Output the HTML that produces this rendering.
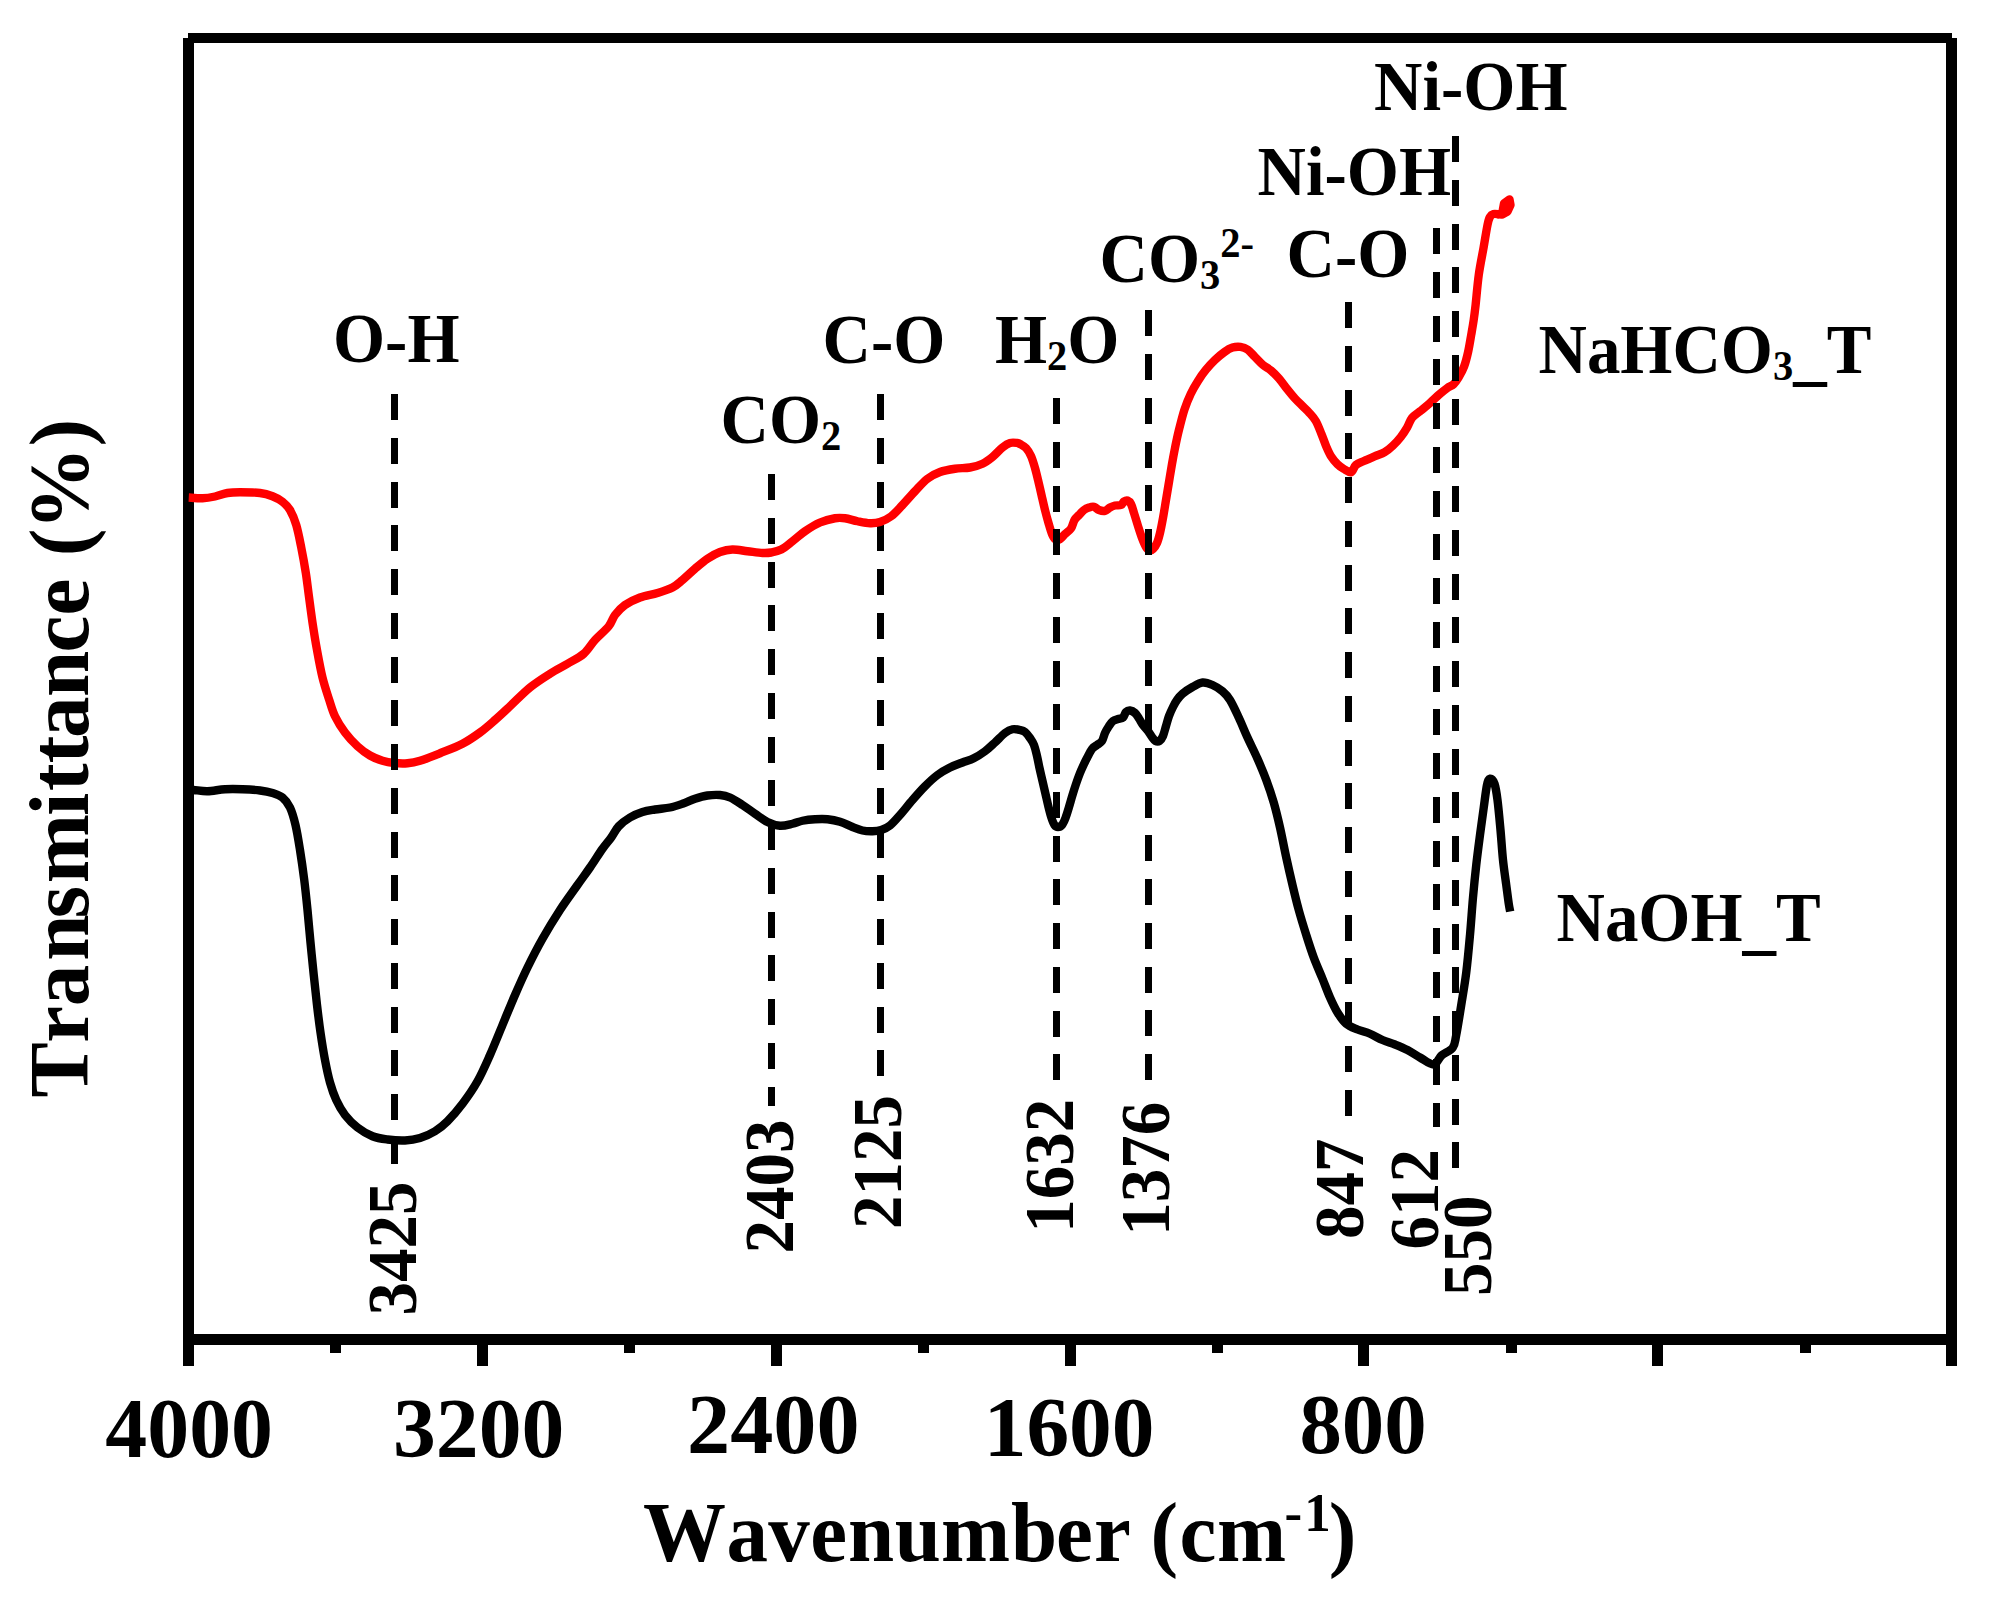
<!DOCTYPE html>
<html lang="en">
<head>
<meta charset="utf-8">
<title>FTIR spectra</title>
<style>
html,body{margin:0;padding:0;background:#fff;}
body{width:1997px;height:1600px;overflow:hidden;}
svg{display:block;}
</style>
</head>
<body>
<svg width="1997" height="1600" viewBox="0 0 1997 1600">
<rect width="1997" height="1600" fill="#fff"/>
<g fill="#000" shape-rendering="crispEdges">
<rect x="183" y="38" width="11" height="1328"/>
<rect x="188" y="33" width="1764" height="10"/>
<rect x="1946" y="38" width="11" height="1328"/>
<rect x="183" y="1334" width="1774" height="11"/>
<rect x="477" y="1340" width="11" height="26"/>
<rect x="771" y="1340" width="11" height="26"/>
<rect x="1065" y="1340" width="11" height="26"/>
<rect x="1358" y="1340" width="11" height="26"/>
<rect x="1652" y="1340" width="11" height="26"/>
<rect x="330" y="1340" width="11" height="13"/>
<rect x="624" y="1340" width="11" height="13"/>
<rect x="918" y="1340" width="11" height="13"/>
<rect x="1212" y="1340" width="11" height="13"/>
<rect x="1506" y="1340" width="11" height="13"/>
<rect x="1800" y="1340" width="11" height="13"/>
</g>
<g stroke="#000" stroke-width="7" stroke-dasharray="26 17.75" shape-rendering="crispEdges" fill="none">
<path d="M880.5 394.0V1076.0"/>
<path d="M1348.5 302.0V1116.0"/>
</g>
<g fill="none" stroke-linejoin="round" stroke-linecap="butt" stroke-width="8.4">
<path stroke="#000" d="M189.00 790.00C189.79 790.00 190.67 789.79 193.75 790.00C196.83 790.21 202.29 791.38 207.50 791.25C212.71 791.12 219.17 789.58 225.00 789.25C230.83 788.92 236.67 789.04 242.50 789.25C248.33 789.46 255.00 789.88 260.00 790.50C265.00 791.12 268.75 791.83 272.50 793.00C276.25 794.17 279.58 795.08 282.50 797.50C285.42 799.92 287.83 802.92 290.00 807.50C292.17 812.08 293.83 817.92 295.50 825.00C297.17 832.08 298.54 840.83 300.00 850.00C301.46 859.17 303.00 870.00 304.25 880.00C305.50 890.00 306.46 899.58 307.50 910.00C308.54 920.42 309.46 931.67 310.50 942.50C311.54 953.33 312.67 964.58 313.75 975.00C314.83 985.42 315.88 995.42 317.00 1005.00C318.12 1014.58 319.17 1023.33 320.50 1032.50C321.83 1041.67 323.42 1051.67 325.00 1060.00C326.58 1068.33 328.12 1075.83 330.00 1082.50C331.88 1089.17 333.75 1094.58 336.25 1100.00C338.75 1105.42 341.46 1110.42 345.00 1115.00C348.54 1119.58 352.92 1123.96 357.50 1127.50C362.08 1131.04 367.50 1134.25 372.50 1136.25C377.50 1138.25 382.08 1138.79 387.50 1139.50C392.92 1140.21 399.58 1140.75 405.00 1140.50C410.42 1140.25 415.00 1139.54 420.00 1138.00C425.00 1136.46 430.42 1134.04 435.00 1131.25C439.58 1128.46 442.92 1125.83 447.50 1121.25C452.08 1116.67 457.50 1110.42 462.50 1103.75C467.50 1097.08 472.92 1089.38 477.50 1081.25C482.08 1073.12 485.83 1064.38 490.00 1055.00C494.17 1045.62 498.33 1035.00 502.50 1025.00C506.67 1015.00 510.83 1004.58 515.00 995.00C519.17 985.42 522.92 976.88 527.50 967.50C532.08 958.12 537.08 948.33 542.50 938.75C547.92 929.17 554.17 918.96 560.00 910.00C565.83 901.04 572.50 892.08 577.50 885.00C582.50 877.92 585.83 873.54 590.00 867.50C594.17 861.46 598.96 853.75 602.50 848.75C606.04 843.75 608.54 841.25 611.25 837.50C613.96 833.75 615.62 829.58 618.75 826.25C621.88 822.92 626.04 819.88 630.00 817.50C633.96 815.12 638.33 813.33 642.50 812.00C646.67 810.67 650.42 810.25 655.00 809.50C659.58 808.75 665.42 808.46 670.00 807.50C674.58 806.54 678.33 805.21 682.50 803.75C686.67 802.29 690.83 800.12 695.00 798.75C699.17 797.38 703.33 796.12 707.50 795.50C711.67 794.88 716.25 794.67 720.00 795.00C723.75 795.33 726.25 795.83 730.00 797.50C733.75 799.17 738.33 802.29 742.50 805.00C746.67 807.71 750.83 810.92 755.00 813.75C759.17 816.58 763.33 820.00 767.50 822.00C771.67 824.00 775.83 825.46 780.00 825.75C784.17 826.04 788.75 824.58 792.50 823.75C796.25 822.92 798.75 821.50 802.50 820.75C806.25 820.00 810.83 819.50 815.00 819.25C819.17 819.00 823.33 818.83 827.50 819.25C831.67 819.67 835.83 820.46 840.00 821.75C844.17 823.04 848.75 825.54 852.50 827.00C856.25 828.46 859.17 829.79 862.50 830.50C865.83 831.21 869.38 831.33 872.50 831.25C875.62 831.17 878.33 830.96 881.25 830.00C884.17 829.04 886.88 828.00 890.00 825.50C893.12 823.00 896.25 819.25 900.00 815.00C903.75 810.75 908.33 804.79 912.50 800.00C916.67 795.21 920.83 790.42 925.00 786.25C929.17 782.08 933.33 778.12 937.50 775.00C941.67 771.88 945.83 769.58 950.00 767.50C954.17 765.42 958.54 764.04 962.50 762.50C966.46 760.96 970.00 760.12 973.75 758.25C977.50 756.38 981.46 753.88 985.00 751.25C988.54 748.62 991.67 745.54 995.00 742.50C998.33 739.46 1002.08 735.21 1005.00 733.00C1007.92 730.79 1010.00 729.75 1012.50 729.25C1015.00 728.75 1017.92 729.54 1020.00 730.00C1022.08 730.46 1023.33 730.67 1025.00 732.00C1026.67 733.33 1028.50 735.83 1030.00 738.00C1031.50 740.17 1032.83 742.00 1034.00 745.00C1035.17 748.00 1036.08 752.17 1037.00 756.00C1037.92 759.83 1038.58 763.83 1039.50 768.00C1040.42 772.17 1041.50 776.67 1042.50 781.00C1043.50 785.33 1044.50 789.67 1045.50 794.00C1046.50 798.33 1047.50 803.00 1048.50 807.00C1049.50 811.00 1050.50 815.00 1051.50 818.00C1052.50 821.00 1053.42 823.50 1054.50 825.00C1055.58 826.50 1056.75 827.00 1058.00 827.00C1059.25 827.00 1060.75 826.50 1062.00 825.00C1063.25 823.50 1064.33 821.00 1065.50 818.00C1066.67 815.00 1067.83 810.83 1069.00 807.00C1070.17 803.17 1071.33 798.83 1072.50 795.00C1073.67 791.17 1074.75 787.67 1076.00 784.00C1077.25 780.33 1078.67 776.33 1080.00 773.00C1081.33 769.67 1082.83 766.50 1084.00 764.00C1085.17 761.50 1085.67 760.50 1087.00 758.00C1088.33 755.50 1090.33 751.17 1092.00 749.00C1093.67 746.83 1095.33 746.33 1097.00 745.00C1098.67 743.67 1100.67 743.00 1102.00 741.00C1103.33 739.00 1103.83 735.50 1105.00 733.00C1106.17 730.50 1107.67 728.00 1109.00 726.00C1110.33 724.00 1111.50 722.17 1113.00 721.00C1114.50 719.83 1116.33 719.58 1118.00 719.00C1119.67 718.42 1121.67 718.67 1123.00 717.50C1124.33 716.33 1124.83 713.17 1126.00 712.00C1127.17 710.83 1128.50 710.33 1130.00 710.50C1131.50 710.67 1133.50 711.67 1135.00 713.00C1136.50 714.33 1137.67 716.50 1139.00 718.50C1140.33 720.50 1141.50 722.92 1143.00 725.00C1144.50 727.08 1146.50 729.00 1148.00 731.00C1149.50 733.00 1150.75 735.33 1152.00 737.00C1153.25 738.67 1154.25 740.33 1155.50 741.00C1156.75 741.67 1158.25 741.83 1159.50 741.00C1160.75 740.17 1161.92 738.50 1163.00 736.00C1164.08 733.50 1165.00 729.33 1166.00 726.00C1167.00 722.67 1167.83 719.17 1169.00 716.00C1170.17 712.83 1171.67 709.67 1173.00 707.00C1174.33 704.33 1175.42 702.21 1177.00 700.00C1178.58 697.79 1179.92 695.92 1182.50 693.75C1185.08 691.58 1189.17 688.88 1192.50 687.00C1195.83 685.12 1199.17 682.83 1202.50 682.50C1205.83 682.17 1209.17 683.54 1212.50 685.00C1215.83 686.46 1219.58 688.75 1222.50 691.25C1225.42 693.75 1227.29 695.62 1230.00 700.00C1232.71 704.38 1235.83 711.25 1238.75 717.50C1241.67 723.75 1244.38 730.62 1247.50 737.50C1250.62 744.38 1254.38 751.67 1257.50 758.75C1260.62 765.83 1263.54 772.71 1266.25 780.00C1268.96 787.29 1271.46 794.58 1273.75 802.50C1276.04 810.42 1277.92 818.33 1280.00 827.50C1282.08 836.67 1284.17 847.92 1286.25 857.50C1288.33 867.08 1290.42 876.25 1292.50 885.00C1294.58 893.75 1296.46 901.67 1298.75 910.00C1301.04 918.33 1303.75 927.08 1306.25 935.00C1308.75 942.92 1311.04 950.21 1313.75 957.50C1316.46 964.79 1319.79 972.08 1322.50 978.75C1325.21 985.42 1327.50 991.88 1330.00 997.50C1332.50 1003.12 1334.79 1008.12 1337.50 1012.50C1340.21 1016.88 1342.92 1020.92 1346.25 1023.75C1349.58 1026.58 1353.54 1027.83 1357.50 1029.50C1361.46 1031.17 1365.83 1032.00 1370.00 1033.75C1374.17 1035.50 1378.33 1038.21 1382.50 1040.00C1386.67 1041.79 1390.83 1042.83 1395.00 1044.50C1399.17 1046.17 1403.33 1047.83 1407.50 1050.00C1411.67 1052.17 1415.65 1055.08 1420.00 1057.50C1424.35 1059.92 1430.02 1064.83 1433.60 1064.50C1437.18 1064.17 1438.30 1058.32 1441.50 1055.50C1444.70 1052.68 1450.34 1051.02 1452.80 1047.60C1455.26 1044.18 1454.84 1042.10 1456.25 1035.00C1457.66 1027.90 1459.58 1015.42 1461.25 1005.00C1462.92 994.58 1464.79 984.17 1466.25 972.50C1467.71 960.83 1468.88 947.50 1470.00 935.00C1471.12 922.50 1471.96 909.17 1473.00 897.50C1474.04 885.83 1475.08 875.42 1476.25 865.00C1477.42 854.58 1478.75 844.58 1480.00 835.00C1481.25 825.42 1482.58 815.83 1483.75 807.50C1484.92 799.17 1485.96 789.79 1487.00 785.00C1488.04 780.21 1488.75 778.96 1490.00 778.75C1491.25 778.54 1493.25 780.21 1494.50 783.75C1495.75 787.29 1496.50 792.29 1497.50 800.00C1498.50 807.71 1499.58 820.00 1500.50 830.00C1501.42 840.00 1502.04 850.83 1503.00 860.00C1503.96 869.17 1505.29 877.71 1506.25 885.00C1507.21 892.29 1508.09 899.33 1508.75 903.75C1509.41 908.17 1509.96 910.21 1510.20 911.50"/>
<path stroke="#f00" d="M188.75 497.50C191.04 497.62 198.12 498.42 202.50 498.25C206.88 498.08 210.83 497.38 215.00 496.50C219.17 495.62 223.33 493.71 227.50 493.00C231.67 492.29 234.58 492.25 240.00 492.25C245.42 492.25 254.58 492.33 260.00 493.00C265.42 493.67 268.75 494.79 272.50 496.25C276.25 497.71 279.58 499.46 282.50 501.75C285.42 504.04 287.71 506.12 290.00 510.00C292.29 513.88 294.38 518.75 296.25 525.00C298.12 531.25 299.67 539.58 301.25 547.50C302.83 555.42 304.50 564.58 305.75 572.50C307.00 580.42 307.62 586.67 308.75 595.00C309.88 603.33 311.12 613.33 312.50 622.50C313.88 631.67 315.33 640.83 317.00 650.00C318.67 659.17 320.46 669.17 322.50 677.50C324.54 685.83 327.17 693.54 329.25 700.00C331.33 706.46 332.38 710.83 335.00 716.25C337.62 721.67 341.25 727.50 345.00 732.50C348.75 737.50 353.33 742.42 357.50 746.25C361.67 750.08 365.83 753.08 370.00 755.50C374.17 757.92 378.46 759.50 382.50 760.75C386.54 762.00 390.08 762.58 394.25 763.00C398.42 763.42 403.21 763.62 407.50 763.25C411.79 762.88 414.58 762.42 420.00 760.75C425.42 759.08 432.92 756.08 440.00 753.25C447.08 750.42 455.83 747.21 462.50 743.75C469.17 740.29 474.58 736.46 480.00 732.50C485.42 728.54 490.00 724.38 495.00 720.00C500.00 715.62 504.17 711.67 510.00 706.25C515.83 700.83 523.33 692.92 530.00 687.50C536.67 682.08 543.75 677.71 550.00 673.75C556.25 669.79 561.88 667.08 567.50 663.75C573.12 660.42 579.17 657.71 583.75 653.75C588.33 649.79 590.83 644.58 595.00 640.00C599.17 635.42 605.42 630.42 608.75 626.25C612.08 622.08 612.29 618.54 615.00 615.00C617.71 611.46 620.83 607.92 625.00 605.00C629.17 602.08 634.58 599.50 640.00 597.50C645.42 595.50 652.08 594.67 657.50 593.00C662.92 591.33 668.33 589.67 672.50 587.50C676.67 585.33 678.75 583.12 682.50 580.00C686.25 576.88 690.83 572.29 695.00 568.75C699.17 565.21 703.33 561.54 707.50 558.75C711.67 555.96 715.83 553.54 720.00 552.00C724.17 550.46 727.92 549.62 732.50 549.50C737.08 549.38 742.50 550.67 747.50 551.25C752.50 551.83 758.54 552.79 762.50 553.00C766.46 553.21 768.12 553.08 771.25 552.50C774.38 551.92 777.71 551.38 781.25 549.50C784.79 547.62 788.54 544.29 792.50 541.25C796.46 538.21 800.42 534.38 805.00 531.25C809.58 528.12 815.00 524.67 820.00 522.50C825.00 520.33 830.83 518.96 835.00 518.25C839.17 517.54 841.25 517.75 845.00 518.25C848.75 518.75 853.33 520.42 857.50 521.25C861.67 522.08 866.25 523.12 870.00 523.25C873.75 523.38 876.46 523.17 880.00 522.00C883.54 520.83 887.50 519.08 891.25 516.25C895.00 513.42 898.54 509.17 902.50 505.00C906.46 500.83 910.83 495.62 915.00 491.25C919.17 486.88 923.33 481.96 927.50 478.75C931.67 475.54 935.42 473.67 940.00 472.00C944.58 470.33 950.00 469.50 955.00 468.75C960.00 468.00 965.42 468.33 970.00 467.50C974.58 466.67 978.75 465.50 982.50 463.75C986.25 462.00 989.17 459.71 992.50 457.00C995.83 454.29 999.58 449.83 1002.50 447.50C1005.42 445.17 1007.50 443.75 1010.00 443.00C1012.50 442.25 1015.83 442.83 1017.50 443.00C1019.17 443.17 1018.58 443.17 1020.00 444.00C1021.42 444.83 1024.17 446.00 1026.00 448.00C1027.83 450.00 1029.50 452.67 1031.00 456.00C1032.50 459.33 1033.75 463.67 1035.00 468.00C1036.25 472.33 1037.42 477.50 1038.50 482.00C1039.58 486.50 1040.42 490.33 1041.50 495.00C1042.58 499.67 1043.83 505.33 1045.00 510.00C1046.17 514.67 1047.33 519.00 1048.50 523.00C1049.67 527.00 1050.83 531.25 1052.00 534.00C1053.17 536.75 1054.17 538.67 1055.50 539.50C1056.83 540.33 1058.42 539.92 1060.00 539.00C1061.58 538.08 1063.17 535.75 1065.00 534.00C1066.83 532.25 1069.42 530.83 1071.00 528.50C1072.58 526.17 1073.17 522.25 1074.50 520.00C1075.83 517.75 1077.42 516.67 1079.00 515.00C1080.58 513.33 1082.33 511.25 1084.00 510.00C1085.67 508.75 1087.33 508.03 1089.00 507.50C1090.67 506.97 1092.33 506.38 1094.00 506.80C1095.67 507.22 1097.17 509.33 1099.00 510.00C1100.83 510.67 1103.17 511.22 1105.00 510.80C1106.83 510.38 1108.33 508.38 1110.00 507.50C1111.67 506.62 1113.17 505.92 1115.00 505.50C1116.83 505.08 1119.50 505.67 1121.00 505.00C1122.50 504.33 1122.92 502.25 1124.00 501.50C1125.08 500.75 1126.33 500.08 1127.50 500.50C1128.67 500.92 1129.92 501.92 1131.00 504.00C1132.08 506.08 1132.83 509.33 1134.00 513.00C1135.17 516.67 1136.67 521.83 1138.00 526.00C1139.33 530.17 1140.67 534.50 1142.00 538.00C1143.33 541.50 1144.75 544.92 1146.00 547.00C1147.25 549.08 1148.33 550.17 1149.50 550.50C1150.67 550.83 1151.75 550.25 1153.00 549.00C1154.25 547.75 1155.83 545.67 1157.00 543.00C1158.17 540.33 1159.00 537.17 1160.00 533.00C1161.00 528.83 1162.00 523.50 1163.00 518.00C1164.00 512.50 1165.00 506.00 1166.00 500.00C1167.00 494.00 1168.00 488.00 1169.00 482.00C1170.00 476.00 1171.00 469.67 1172.00 464.00C1173.00 458.33 1173.87 453.57 1175.00 448.00C1176.13 442.43 1177.23 436.98 1178.80 430.60C1180.37 424.22 1182.40 415.85 1184.40 409.70C1186.40 403.55 1188.53 398.50 1190.80 393.70C1193.07 388.90 1195.47 384.90 1198.00 380.90C1200.53 376.90 1203.18 373.18 1206.00 369.70C1208.82 366.22 1211.82 362.95 1214.90 360.00C1217.98 357.05 1221.57 354.07 1224.50 352.00C1227.43 349.93 1229.83 348.45 1232.50 347.60C1235.17 346.75 1237.97 346.57 1240.50 346.90C1243.03 347.23 1245.30 347.93 1247.70 349.60C1250.10 351.27 1252.37 354.35 1254.90 356.90C1257.43 359.45 1260.22 362.63 1262.90 364.90C1265.58 367.17 1268.32 368.23 1271.00 370.50C1273.68 372.77 1276.33 375.43 1279.00 378.50C1281.67 381.57 1284.33 385.57 1287.00 388.90C1289.67 392.23 1292.33 395.57 1295.00 398.50C1297.67 401.43 1300.60 404.10 1303.00 406.50C1305.40 408.90 1307.27 410.48 1309.40 412.90C1311.53 415.32 1313.80 417.52 1315.80 421.00C1317.80 424.48 1319.65 429.53 1321.40 433.80C1323.15 438.07 1324.70 442.87 1326.30 446.60C1327.90 450.33 1329.13 453.27 1331.00 456.20C1332.87 459.13 1335.35 462.07 1337.50 464.20C1339.65 466.33 1341.63 467.67 1343.90 469.00C1346.17 470.33 1349.10 472.87 1351.10 472.20C1353.10 471.53 1353.77 466.87 1355.90 465.00C1358.03 463.13 1360.70 462.47 1363.90 461.00C1367.10 459.53 1371.63 457.67 1375.10 456.20C1378.57 454.73 1381.75 453.93 1384.70 452.20C1387.65 450.47 1390.12 448.33 1392.80 445.80C1395.48 443.27 1398.40 440.07 1400.80 437.00C1403.20 433.93 1405.33 430.60 1407.20 427.40C1409.07 424.20 1409.87 420.48 1412.00 417.80C1414.13 415.12 1417.07 413.72 1420.00 411.30C1422.93 408.88 1426.40 406.10 1429.60 403.30C1432.80 400.50 1436.27 397.03 1439.20 394.50C1442.13 391.97 1444.78 389.83 1447.20 388.10C1449.62 386.37 1451.82 385.83 1453.70 384.10C1455.58 382.37 1456.77 380.63 1458.50 377.70C1460.23 374.77 1462.50 370.78 1464.10 366.50C1465.70 362.22 1466.90 357.35 1468.10 352.00C1469.30 346.65 1470.37 339.73 1471.30 334.40C1472.23 329.07 1472.98 324.90 1473.70 320.00C1474.42 315.10 1474.76 312.50 1475.60 305.00C1476.44 297.50 1477.42 284.58 1478.75 275.00C1480.08 265.42 1482.14 255.83 1483.60 247.50C1485.06 239.17 1486.45 230.08 1487.50 225.00C1488.55 219.92 1488.90 218.83 1489.90 217.00C1490.90 215.17 1491.98 214.45 1493.50 214.00C1495.02 213.55 1498.08 214.25 1499.00 214.30"/>
<path stroke="#f00" stroke-linecap="round" d="M1498 214.3L1502 214.5L1504 203.5L1509.5 199.5L1510.5 205L1507.5 211.5L1503 214L1506 205.5L1509 204"/>
</g>
<g stroke="#000" stroke-width="7" stroke-dasharray="26 17.75" shape-rendering="crispEdges" fill="none">
<path d="M394.5 394.0V1163.5"/>
<path d="M771.5 474.0V1105.5"/>
<path d="M1056.5 398.0V1080.0"/>
<path d="M1148.5 310.4V1080.0"/>
<path d="M1436.5 228.0V1127.0"/>
<path d="M1455.5 136.0V1169.0"/>
</g>
<g font-family="'Liberation Serif', 'Times New Roman', serif" font-weight="bold" fill="#000">
<g font-size="67">
<text transform="translate(333.0 362.0) scale(1 1.035)">O<tspan dy="1.9">-</tspan><tspan dy="-1.9">H</tspan></text>
<text transform="translate(720.5 442.5) scale(1 1.035)">CO<tspan font-size="40.5" dy="7.2">2</tspan></text>
<text transform="translate(822.5 362.5) scale(1 1.035)">C<tspan dy="1.9">-</tspan><tspan dy="-1.9">O</tspan></text>
<text transform="translate(995.0 362.5) scale(1 1.035)">H<tspan font-size="40.5" dy="7.2">2</tspan><tspan dy="-7.2">O</tspan></text>
<text transform="translate(1099.5 282.0) scale(1 1.035)">CO<tspan font-size="40.5" dy="7.2">3</tspan><tspan font-size="40.5" dy="-31.6">2-</tspan></text>
<text transform="translate(1286.5 277.0) scale(1 1.035)">C<tspan dy="1.9">-</tspan><tspan dy="-1.9">O</tspan></text>
<text transform="translate(1257.5 195.0) scale(1 1.035)">Ni<tspan dy="1.9">-</tspan><tspan dy="-1.9">OH</tspan></text>
<text transform="translate(1374.0 109.5) scale(1 1.035)">Ni<tspan dy="1.9">-</tspan><tspan dy="-1.9">OH</tspan></text>
<text transform="translate(1538.5 372.5) scale(1 1.035)">NaHCO<tspan font-size="40.5" dy="7.2">3</tspan><tspan dy="-2.7">_</tspan><tspan dy="-4.5">T</tspan></text>
<text transform="translate(1556.5 941.0) scale(1 1.035)">NaOH<tspan dy="4.5">_</tspan><tspan dy="-4.5">T</tspan></text>
<text transform="translate(415.7 1315.5) rotate(-90) scale(1 1.045)">3425</text>
<text transform="translate(792.8 1253.5) rotate(-90) scale(1 1.045)">2403</text>
<text transform="translate(900.8 1229.0) rotate(-90) scale(1 1.045)">2125</text>
<text transform="translate(1073.4 1232.8) rotate(-90) scale(1 1.045)">1632</text>
<text transform="translate(1168.6 1235.8) rotate(-90) scale(1 1.045)">1376</text>
<text transform="translate(1363.1 1239.0) rotate(-90) scale(1 1.045)">847</text>
<text transform="translate(1437.5 1249.6) rotate(-90) scale(1 1.045)">612</text>
<text transform="translate(1490.9 1296.0) rotate(-90) scale(1 1.045)">550</text>
</g>
<g font-size="83" text-anchor="middle">
<text transform="translate(105.35 1456.5) scale(1.0099 1.025)" text-anchor="start">4000</text>
<text transform="translate(392.98 1457.2) scale(1.0324 1.025)" text-anchor="start">3200</text>
<text transform="translate(687.08 1453.2) scale(1.0392 1.025)" text-anchor="start">2400</text>
<text transform="translate(983.66 1455.6) scale(1.0295 1.025)" text-anchor="start">1600</text>
<text transform="translate(1299.38 1453.2) scale(1.0229 1.025)" text-anchor="start">800</text>
<text transform="translate(0 1560.5) scale(1 1.025)" text-anchor="start"><tspan x="643.1 726.4 768.2 810.2 847.9 894.8 940.9 1011.1 1056.0 1094.1 1135.0 1150.5 1179.5 1217.1">Wavenumber (cm</tspan><tspan font-size="53" x="1284.5 1304.3" dy="-28.5">-1</tspan><tspan x="1328.8" dy="28.5">)</tspan></text>
<text transform="translate(87.5 1100.0) rotate(-90) scale(1 1.025)" text-anchor="start" x="2.6 57.2 93.7 139.3 181.7 216.8 284.2 309.0 336.7 362.0 402.9 447.4 484.4 525.0 543.8 570.1 653.4">Transmittance (%)</text>
</g>
</g>
</svg>
</body>
</html>
